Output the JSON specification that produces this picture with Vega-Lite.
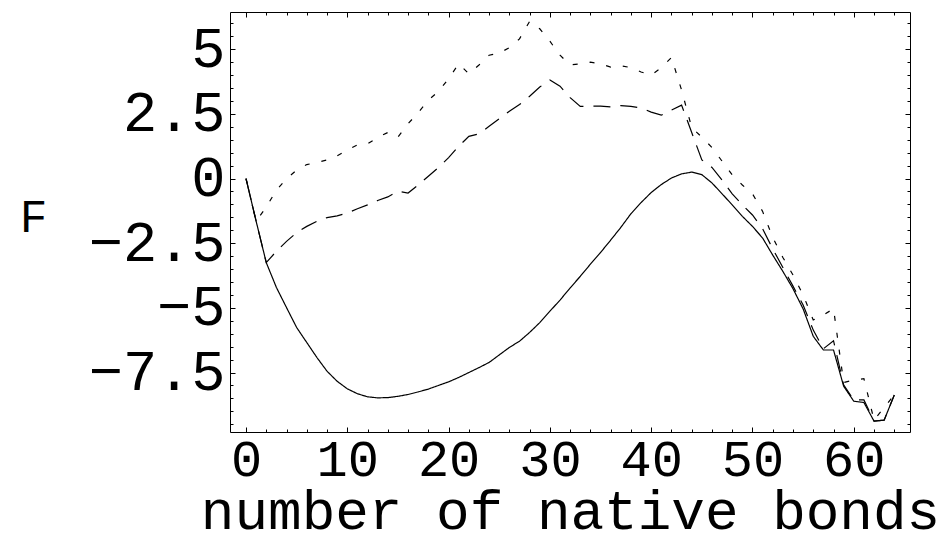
{
 "$schema": "https://vega.github.io/schema/vega-lite/v6.json",
 "width": 680, "height": 420,
 "autosize": "none",
 "padding": {"left": 230, "top": 12, "right": 41, "bottom": 109},
 "background": "white",
 "config": {
  "view": {"stroke": "black", "strokeWidth": 1},
  "axis": {"domain": false, "grid": false, "tickColor": "black", "tickWidth": 1,
   "labelFont": "Liberation Mono", "titleFont": "Liberation Mono", "labelColor": "black", "titleColor": "black", "titleFontWeight": "normal", "labelFontWeight": "normal"}
 },
 "datasets": {
  "curves": [
   {"n":0,"F":0,"s":"solid"},{"n":1,"F":-1.65,"s":"solid"},{"n":2,"F":-3.25,"s":"solid"},{"n":3,"F":-4.21,"s":"solid"},{"n":4,"F":-4.99,"s":"solid"},{"n":5,"F":-5.76,"s":"solid"},{"n":6,"F":-6.34,"s":"solid"},{"n":7,"F":-6.92,"s":"solid"},{"n":8,"F":-7.45,"s":"solid"},{"n":9,"F":-7.84,"s":"solid"},
   {"n":10,"F":-8.13,"s":"solid"},{"n":11,"F":-8.32,"s":"solid"},{"n":12,"F":-8.44,"s":"solid"},{"n":13,"F":-8.48,"s":"solid"},{"n":14,"F":-8.47,"s":"solid"},{"n":15,"F":-8.42,"s":"solid"},{"n":16,"F":-8.35,"s":"solid"},{"n":17,"F":-8.25,"s":"solid"},{"n":18,"F":-8.14,"s":"solid"},{"n":19,"F":-8.0,"s":"solid"},
   {"n":20,"F":-7.86,"s":"solid"},{"n":21,"F":-7.69,"s":"solid"},{"n":22,"F":-7.5,"s":"solid"},{"n":23,"F":-7.31,"s":"solid"},{"n":24,"F":-7.11,"s":"solid"},{"n":25,"F":-6.82,"s":"solid"},{"n":26,"F":-6.53,"s":"solid"},{"n":27,"F":-6.29,"s":"solid"},{"n":28,"F":-5.95,"s":"solid"},{"n":29,"F":-5.57,"s":"solid"},
   {"n":30,"F":-5.13,"s":"solid"},{"n":31,"F":-4.7,"s":"solid"},{"n":32,"F":-4.23,"s":"solid"},{"n":33,"F":-3.78,"s":"solid"},{"n":34,"F":-3.31,"s":"solid"},{"n":35,"F":-2.86,"s":"solid"},{"n":36,"F":-2.38,"s":"solid"},{"n":37,"F":-1.89,"s":"solid"},{"n":38,"F":-1.36,"s":"solid"},{"n":39,"F":-0.93,"s":"solid"},
   {"n":40,"F":-0.54,"s":"solid"},{"n":41,"F":-0.23,"s":"solid"},{"n":42,"F":0.02,"s":"solid"},{"n":43,"F":0.18,"s":"solid"},{"n":44,"F":0.25,"s":"solid"},{"n":45,"F":0.15,"s":"solid"},{"n":46,"F":-0.17,"s":"solid"},{"n":47,"F":-0.59,"s":"solid"},{"n":48,"F":-1.02,"s":"solid"},{"n":49,"F":-1.46,"s":"solid"},
   {"n":50,"F":-1.85,"s":"solid"},{"n":51,"F":-2.3,"s":"solid"},{"n":52,"F":-2.96,"s":"solid"},{"n":53,"F":-3.59,"s":"solid"},{"n":54,"F":-4.26,"s":"solid"},{"n":55,"F":-5.04,"s":"solid"},{"n":56,"F":-6.1,"s":"solid"},{"n":57,"F":-6.63,"s":"solid"},{"n":58,"F":-6.63,"s":"solid"},{"n":59,"F":-8.03,"s":"solid"},
   {"n":60,"F":-8.61,"s":"solid"},{"n":61,"F":-8.66,"s":"solid"},{"n":62,"F":-9.38,"s":"solid"},{"n":63,"F":-9.34,"s":"solid"},{"n":64,"F":-8.37,"s":"solid"},

   {"n":0,"F":0,"s":"dashed"},{"n":1,"F":-1.65,"s":"dashed"},{"n":2,"F":-3.25,"s":"dashed"},{"n":3,"F":-2.81,"s":"dashed"},{"n":4,"F":-2.43,"s":"dashed"},{"n":5,"F":-2.09,"s":"dashed"},{"n":6,"F":-1.85,"s":"dashed"},{"n":7,"F":-1.65,"s":"dashed"},{"n":8,"F":-1.51,"s":"dashed"},{"n":9,"F":-1.44,"s":"dashed"},
   {"n":10,"F":-1.33,"s":"dashed"},{"n":11,"F":-1.17,"s":"dashed"},{"n":12,"F":-1.02,"s":"dashed"},{"n":13,"F":-0.85,"s":"dashed"},{"n":14,"F":-0.71,"s":"dashed"},{"n":15,"F":-0.49,"s":"dashed"},{"n":16,"F":-0.56,"s":"dashed"},{"n":17,"F":-0.25,"s":"dashed"},{"n":18,"F":0.09,"s":"dashed"},{"n":19,"F":0.43,"s":"dashed"},
   {"n":20,"F":0.81,"s":"dashed"},{"n":21,"F":1.25,"s":"dashed"},{"n":22,"F":1.63,"s":"dashed"},{"n":23,"F":1.73,"s":"dashed"},{"n":24,"F":2.02,"s":"dashed"},{"n":25,"F":2.31,"s":"dashed"},{"n":26,"F":2.6,"s":"dashed"},{"n":27,"F":2.86,"s":"dashed"},{"n":28,"F":3.18,"s":"dashed"},{"n":29,"F":3.54,"s":"dashed"},
   {"n":30,"F":3.81,"s":"dashed"},{"n":31,"F":3.57,"s":"dashed"},{"n":32,"F":3.13,"s":"dashed"},{"n":33,"F":2.79,"s":"dashed"},{"n":34,"F":2.8,"s":"dashed"},{"n":35,"F":2.8,"s":"dashed"},{"n":36,"F":2.77,"s":"dashed"},{"n":37,"F":2.82,"s":"dashed"},{"n":38,"F":2.79,"s":"dashed"},{"n":39,"F":2.73,"s":"dashed"},
   {"n":40,"F":2.57,"s":"dashed"},{"n":41,"F":2.45,"s":"dashed"},{"n":42,"F":2.65,"s":"dashed"},{"n":43,"F":2.84,"s":"dashed"},{"n":44,"F":1.78,"s":"dashed"},{"n":45,"F":0.72,"s":"dashed"},{"n":46,"F":0.43,"s":"dashed"},{"n":47,"F":-0.06,"s":"dashed"},{"n":48,"F":-0.59,"s":"dashed"},{"n":49,"F":-1.02,"s":"dashed"},
   {"n":50,"F":-1.41,"s":"dashed"},{"n":51,"F":-1.94,"s":"dashed"},{"n":52,"F":-2.72,"s":"dashed"},{"n":53,"F":-3.44,"s":"dashed"},{"n":54,"F":-4.16,"s":"dashed"},{"n":55,"F":-4.89,"s":"dashed"},{"n":56,"F":-5.86,"s":"dashed"},{"n":57,"F":-6.58,"s":"dashed"},{"n":58,"F":-6.27,"s":"dashed"},{"n":59,"F":-7.98,"s":"dashed"},
   {"n":60,"F":-8.56,"s":"dashed"},{"n":61,"F":-8.56,"s":"dashed"},{"n":62,"F":-9.38,"s":"dashed"},{"n":63,"F":-9.34,"s":"dashed"},{"n":64,"F":-8.37,"s":"dashed"},

   {"n":0,"F":0,"s":"dotted"},{"n":1,"F":-1.65,"s":"dotted"},{"n":2,"F":-1.1,"s":"dotted"},{"n":3,"F":-0.45,"s":"dotted"},{"n":4,"F":-0.01,"s":"dotted"},{"n":5,"F":0.33,"s":"dotted"},{"n":6,"F":0.54,"s":"dotted"},{"n":7,"F":0.62,"s":"dotted"},{"n":8,"F":0.72,"s":"dotted"},{"n":9,"F":0.88,"s":"dotted"},
   {"n":10,"F":1.1,"s":"dotted"},{"n":11,"F":1.3,"s":"dotted"},{"n":12,"F":1.34,"s":"dotted"},{"n":13,"F":1.59,"s":"dotted"},{"n":14,"F":1.78,"s":"dotted"},{"n":15,"F":1.6,"s":"dotted"},{"n":16,"F":2.12,"s":"dotted"},{"n":17,"F":2.55,"s":"dotted"},{"n":18,"F":3.03,"s":"dotted"},{"n":19,"F":3.37,"s":"dotted"},
   {"n":20,"F":3.86,"s":"dotted"},{"n":21,"F":4.44,"s":"dotted"},{"n":22,"F":4.05,"s":"dotted"},{"n":23,"F":4.39,"s":"dotted"},{"n":24,"F":4.77,"s":"dotted"},{"n":25,"F":4.85,"s":"dotted"},{"n":26,"F":5.06,"s":"dotted"},{"n":27,"F":5.4,"s":"dotted"},{"n":28,"F":6.08,"s":"dotted"},{"n":29,"F":5.79,"s":"dotted"},
   {"n":30,"F":5.31,"s":"dotted"},{"n":31,"F":4.77,"s":"dotted"},{"n":32,"F":4.39,"s":"dotted"},{"n":33,"F":4.44,"s":"dotted"},{"n":34,"F":4.5,"s":"dotted"},{"n":35,"F":4.44,"s":"dotted"},{"n":36,"F":4.31,"s":"dotted"},{"n":37,"F":4.36,"s":"dotted"},{"n":38,"F":4.29,"s":"dotted"},{"n":39,"F":4.12,"s":"dotted"},
   {"n":40,"F":4.0,"s":"dotted"},{"n":41,"F":4.29,"s":"dotted"},{"n":42,"F":4.68,"s":"dotted"},{"n":43,"F":3.42,"s":"dotted"},{"n":44,"F":1.97,"s":"dotted"},{"n":45,"F":1.6,"s":"dotted"},{"n":46,"F":1.2,"s":"dotted"},{"n":47,"F":0.67,"s":"dotted"},{"n":48,"F":0.14,"s":"dotted"},{"n":49,"F":-0.25,"s":"dotted"},
   {"n":50,"F":-0.59,"s":"dotted"},{"n":51,"F":-1.27,"s":"dotted"},{"n":52,"F":-2.28,"s":"dotted"},{"n":53,"F":-3.05,"s":"dotted"},{"n":54,"F":-3.73,"s":"dotted"},{"n":55,"F":-4.5,"s":"dotted"},{"n":56,"F":-5.47,"s":"dotted"},{"n":57,"F":-5.28,"s":"dotted"},{"n":58,"F":-5.03,"s":"dotted"},{"n":59,"F":-7.89,"s":"dotted"},
   {"n":60,"F":-7.79,"s":"dotted"},{"n":61,"F":-7.74,"s":"dotted"},{"n":62,"F":-9.34,"s":"dotted"},{"n":63,"F":-8.85,"s":"dotted"},{"n":64,"F":-8.37,"s":"dotted"}
  ]
 },
 "data": {"name": "curves"},
 "layer": [
  {
   "mark": {"type": "line", "strokeWidth": 1.2, "color": "black", "clip": true},
   "encoding": {
    "x": {"field": "n", "type": "quantitative", "scale": {"domain": [-1.58, 65.55], "nice": false, "zero": false},
     "axis": {"orient": "bottom", "values": [0,10,20,30,40,50,60], "tickSize": -5, "labelFontSize": 52, "labelPadding": 7, "format": "d",
      "title": "number of native bonds", "titleFontSize": 56, "titleBaseline": "alphabetic", "titleY": 96}},
    "y": {"field": "F", "type": "quantitative", "scale": {"domain": [-9.8, 6.44], "nice": false, "zero": false},
     "axis": {"orient": "left", "values": [-7.5,-5,-2.5,0,2.5,5], "tickSize": -5, "labelFontSize": 57, "labelPadding": 10, "format": ".1~f",
      "title": "F", "titleAngle": 0, "titleFontSize": 46, "titleAlign": "center", "titleBaseline": "middle", "titleX": -197, "titleY": 205}},
    "detail": {"field": "s", "type": "nominal"},
    "strokeDash": {"field": "s", "type": "nominal", "scale": {"domain": ["solid","dashed","dotted"], "range": [[1,0],[17,10],[5,12]]}, "legend": null}
   }
  },
  {
   "mark": {"type": "point", "opacity": 0},
   "encoding": {
    "x": {"field": "n", "type": "quantitative", "scale": {"domain": [-1.58, 65.55], "nice": false, "zero": false},
     "axis": {"orient": "bottom", "values": [2,4,6,8,12,14,16,18,22,24,26,28,32,34,36,38,42,44,46,48,52,54,56,58,62,64], "tickSize": -3, "labels": false, "title": null}},
    "y": {"field": "F", "type": "quantitative", "scale": {"domain": [-9.8, 6.44], "nice": false, "zero": false},
     "axis": {"orient": "left", "values": [-9.5,-9,-8.5,-8,-7,-6.5,-6,-5.5,-4.5,-4,-3.5,-3,-2,-1.5,-1,-0.5,0.5,1,1.5,2,3,3.5,4,4.5,5.5,6], "tickSize": -3, "labels": false, "title": null}}
   }
  },
  {
   "mark": {"type": "point", "opacity": 0},
   "encoding": {
    "x": {"field": "n", "type": "quantitative", "scale": {"domain": [-1.58, 65.55], "nice": false, "zero": false},
     "axis": {"orient": "top", "values": [0,10,20,30,40,50,60], "tickSize": -5, "labels": false, "title": null}},
    "y": {"field": "F", "type": "quantitative", "scale": {"domain": [-9.8, 6.44], "nice": false, "zero": false},
     "axis": {"orient": "right", "values": [-7.5,-5,-2.5,0,2.5,5], "tickSize": -5, "labels": false, "title": null}}
   }
  },
  {
   "mark": {"type": "point", "opacity": 0},
   "encoding": {
    "x": {"field": "n", "type": "quantitative", "scale": {"domain": [-1.58, 65.55], "nice": false, "zero": false},
     "axis": {"orient": "top", "values": [2,4,6,8,12,14,16,18,22,24,26,28,32,34,36,38,42,44,46,48,52,54,56,58,62,64], "tickSize": -3, "labels": false, "title": null}},
    "y": {"field": "F", "type": "quantitative", "scale": {"domain": [-9.8, 6.44], "nice": false, "zero": false},
     "axis": {"orient": "right", "values": [-9.5,-9,-8.5,-8,-7,-6.5,-6,-5.5,-4.5,-4,-3.5,-3,-2,-1.5,-1,-0.5,0.5,1,1.5,2,3,3.5,4,4.5,5.5,6], "tickSize": -3, "labels": false, "title": null}}
   }
  }
 ],
 "resolve": {"axis": {"x": "independent", "y": "independent"}}
}
